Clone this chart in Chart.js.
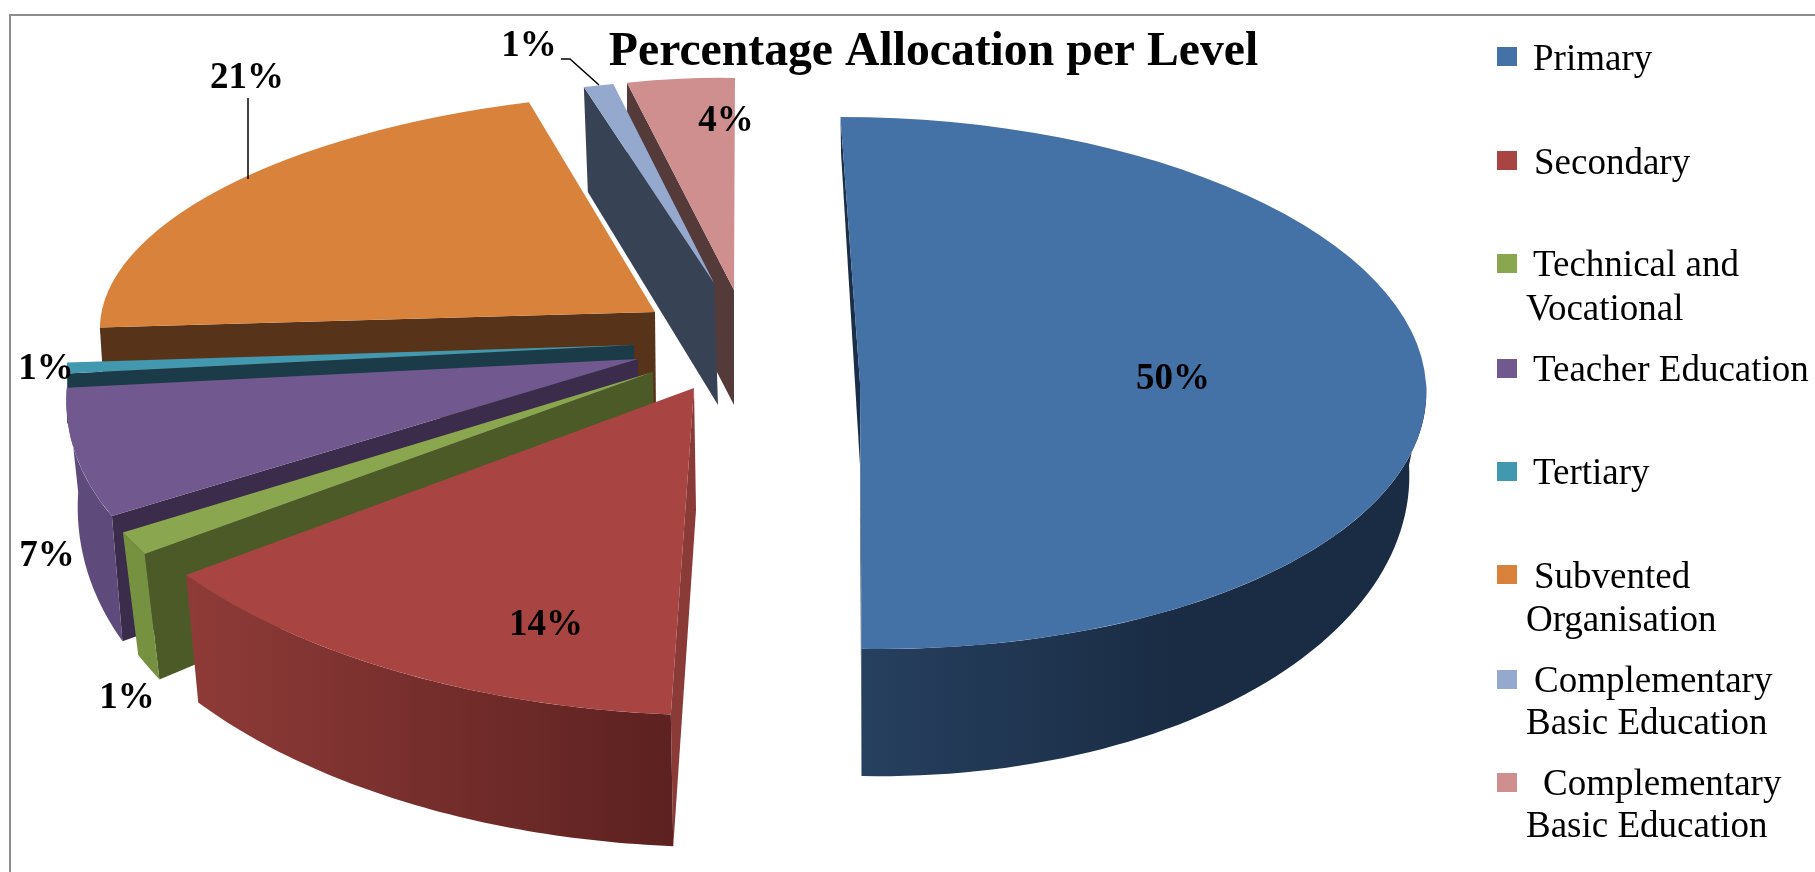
<!DOCTYPE html>
<html>
<head>
<meta charset="utf-8">
<style>
html,body{margin:0;padding:0;background:#fff;overflow:hidden}
#wrap{position:absolute;left:0;top:0;width:1815px;height:872px}
</style>
<script src="https://cdn.jsdelivr.net/npm/chart.js@4"></script>
</head>
<body>
<div id="wrap"><canvas id="c" width="1815" height="872"></canvas></div>
<script>
const chartTitle = 'Percentage Allocation per Level';
const categories = ['Primary','Secondary','Technical and Vocational','Teacher Education','Tertiary','Subvented Organisation','Complementary Basic Education','Complementary Basic Education'];
const percentages = [50,14,1,7,1,21,1,4];

const topColors = ['#4471a6','#a84441','#8aa64e','#71588f','#4198af','#d9823b','#95a9cf','#cf8f8f'];
const radialColors = ['#1b2e47','#8a3a37','#4c5a28','#3c2c4c','#1a3b47','#57331a','#374354','#553a3a'];
const rimColors = [['#26405f','#1a2c44'],['#8f3b38','#5c2120'],['#76913f','#76913f'],['#5f4a7c','#5f4a7c'],null,null,null,null];

const apex = [[860,383],[694,388],[653,372],[638,359],[634,345],[655,312],[714,283],[734,290]];
const axisX = [[566,0],[636,14],[622,56],[562,15],[564,-4],[553,2],[478,10],[430,8]];
const axisY = [[19.5,266],[-3,327],[-22,374],[-105,306],[-60,172],[-49,220],[-20,203],[-1,212]];
const floorShift = [[0,82],[2,122],[2,100],[0,100],[0,50],[1,100],[4,122],[0,115]];
const floorScale = [[0.97,1.17],[0.98,1.03],[0.975,1.14],[0.98,1.16],[1,1],[0.99,1],[1,1.087],[1,1]];
const rimFromDeg = [0,null,null,null,null,null,null,null];
const paintOrder = [7,6,5,4,3,2,1,0];

const labelAt = [[1173,379],[546,625],[127,698],[47,556],[46,369],[247,78],[529,46],[726,121]];
const leaders = [[[248,98],[248,179]],[[561,59],[570,59],[599,85]]];

const legendLines = [['Primary'],['Secondary'],['Technical and','Vocational'],['Teacher Education'],['Tertiary'],['Subvented','Organisation'],['Complementary','Basic Education'],['Complementary','Basic Education']];
const legendSwatchY = [47,151,254,359,462,565,670,773];
const legendFirstX = [1533,1534,1533,1533,1533,1534,1534,1543];
const legendBase = [[70],[174],[276,320],[381],[484],[588,631],[692,734],[795,837]];

const serif = '"Liberation Serif","Times New Roman",serif';

function pt(arc,i,theta,low){
  const c=Math.cos(theta),s=Math.sin(theta);
  let x=axisX[i][0]*c+axisY[i][0]*s, y=axisX[i][1]*c+axisY[i][1]*s;
  let ox=apex[i][0], oy=apex[i][1];
  if(low){x*=floorScale[i][0];y*=floorScale[i][1];ox+=floorShift[i][0];oy+=floorShift[i][1];}
  return [ox+x,oy+y];
}
function apexPt(i,low){
  return low?[apex[i][0]+floorShift[i][0],apex[i][1]+floorShift[i][1]]:apex[i];
}
function poly(ctx,pts,fill){
  ctx.beginPath();
  pts.forEach((p,k)=>k?ctx.lineTo(p[0],p[1]):ctx.moveTo(p[0],p[1]));
  ctx.closePath();ctx.fillStyle=fill;ctx.fill();
}
function radialWall(ctx,arc,i,theta){
  poly(ctx,[apexPt(i,false),pt(arc,i,theta,false),pt(arc,i,theta,true),apexPt(i,true)],radialColors[i]);
}
function rimWall(ctx,arc,i){
  if(!rimColors[i])return;
  let a0=arc.startAngle,a1=arc.endAngle;
  if(rimFromDeg[i]!==null)a0=Math.max(a0,rimFromDeg[i]*Math.PI/180);
  const n=60,up=[],low=[];
  for(let k=0;k<=n;k++){const t=a0+(a1-a0)*k/n;up.push(pt(arc,i,t,false));low.push(pt(arc,i,t,true));}
  const pts=up.concat(low.reverse());
  const xs=pts.map(p=>p[0]);
  const minX=Math.min(...xs),maxX=Math.max(...xs);
  const h=ctx.createLinearGradient(minX,0,maxX,0);
  h.addColorStop(0,rimColors[i][0]);
  if(i===0)h.addColorStop(0.55,rimColors[i][1]);
  h.addColorStop(1,rimColors[i][1]);
  poly(ctx,pts,h);
}
function topFace(ctx,arc,i){
  const R=arc.outerRadius,a=axisX[i][0]/R,b=axisX[i][1]/R,c=axisY[i][0]/R,d=axisY[i][1]/R;
  ctx.save();
  ctx.transform(a,b,c,d,apex[i][0]-(a*arc.x+c*arc.y),apex[i][1]-(b*arc.x+d*arc.y));
  arc.draw(ctx);
  ctx.restore();
}

const solidPie = {
  id:'solidPie',
  beforeDraw(chart){
    const ctx=chart.ctx;
    ctx.save();
    ctx.fillStyle='#fff';ctx.fillRect(0,0,chart.width,chart.height);
    ctx.strokeStyle='#8c8c8c';ctx.lineWidth=2;
    ctx.beginPath();ctx.moveTo(10,chart.height);ctx.lineTo(10,15);ctx.lineTo(chart.width,15);ctx.stroke();
    ctx.restore();
  },
  beforeDatasetsDraw(chart){
    const ctx=chart.ctx,arcs=chart.getDatasetMeta(0).data;
    paintOrder.forEach(i=>{
      const arc=arcs[i];
      ctx.save();
      radialWall(ctx,arc,i,arc.startAngle);
      if(i===0)radialWall(ctx,arc,i,arc.endAngle);
      rimWall(ctx,arc,i);
      topFace(ctx,arc,i);
      ctx.restore();
    });
    ctx.save();
    ctx.strokeStyle='#000';ctx.lineWidth=1.5;
    leaders.forEach(l=>{ctx.beginPath();l.forEach((p,k)=>k?ctx.lineTo(p[0],p[1]):ctx.moveTo(p[0],p[1]));ctx.stroke();});
    ctx.fillStyle='#000';ctx.textAlign='center';ctx.textBaseline='middle';
    ctx.font='bold 37px '+serif;
    percentages.forEach((v,i)=>ctx.fillText(v+'%',labelAt[i][0],labelAt[i][1]));
    ctx.restore();
    return false;
  },
  afterDraw(chart){
    const ctx=chart.ctx;
    ctx.save();
    ctx.textBaseline='alphabetic';ctx.textAlign='left';
    ctx.font='37px '+serif;
    categories.forEach((name,i)=>{
      ctx.fillStyle=topColors[i];
      ctx.fillRect(1497,legendSwatchY[i],20,19);
      ctx.fillStyle='#000';
      legendLines[i].forEach((line,k)=>ctx.fillText(line,k?1526:legendFirstX[i],legendBase[i][k]));
    });
    ctx.restore();
  }
};

new Chart(document.getElementById('c'),{
  type:'pie',
  data:{labels:categories,datasets:[{data:percentages,backgroundColor:topColors,borderWidth:0}]},
  options:{
    responsive:false,animation:false,
    layout:{padding:{left:52,top:0}},
    plugins:{
      legend:{display:false},tooltip:{enabled:false},
      title:{display:true,text:chartTitle,color:'#000',font:{family:serif,size:47.7,weight:'bold'},padding:{top:24,bottom:10}}
    }
  },
  plugins:[solidPie]
});
</script>
</body>
</html>
